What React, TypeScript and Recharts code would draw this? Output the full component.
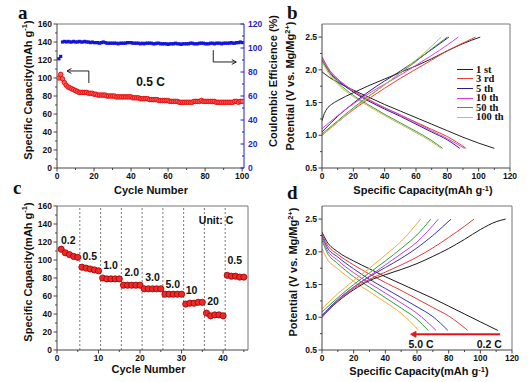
import React from 'react';
import { ScatterChart, Scatter, LineChart, Line, XAxis, YAxis, ReferenceLine, ReferenceDot, Legend } from 'recharts';

const SANS = '"Liberation Sans", Arial, Helvetica, sans-serif';
const SERIF = '"Liberation Serif", "Times New Roman", Times, serif';
const AXIS = '#444';
const BLUE = '#1f1fc8';

// ---------------- panel a : cycling at 0.5 C ----------------
const aCapacity = [
  100, 104, 99, 95, 92, 90, 89, 88, 87, 86,
  85, 84, 84, 84, 84, 84, 83, 83, 83, 82,
  82, 81, 81, 81, 81, 81, 80, 80, 80, 80,
  80, 79, 79, 79, 79, 79, 79, 79, 79, 79,
  78, 78, 78, 78, 77, 77, 77, 77, 77, 76,
  76, 76, 76, 76, 75, 75, 75, 75, 75, 75,
  74, 74, 74, 74, 74, 73, 73, 73, 73, 73,
  73, 73, 73, 74, 74, 74, 74, 75, 74, 74,
  74, 74, 74, 74, 74, 73, 73, 73, 73, 73,
  73, 73, 73, 73, 73, 74, 74, 73, 74, 74,
];
const aEfficiency = [
  91, 93, 105, 105.5, 105, 105.5, 105, 105, 105.5, 105,
  105, 105.5, 105, 105, 105.5, 105, 105, 104.5, 105, 104.5,
  104.5, 104.5, 104, 104.5, 105, 104.5, 104, 104, 104, 104,
  104, 104, 103.5, 104, 104, 104, 104, 104.5, 104.5, 104.5,
  104, 104, 104, 104, 103.5, 104, 103.5, 104, 104, 104,
  104, 103.5, 103.5, 104, 104, 103.5, 103.5, 103.5, 103.5, 103,
  103.5, 103.5, 103.5, 104, 103.5, 103.5, 103, 103.5, 103.5, 103.5,
  103.5, 104, 104, 103.5, 103.5, 103.5, 104, 104, 104, 103.5,
  103.5, 103.5, 104, 104, 103.5, 104, 104, 104, 103.5, 104,
  104, 104, 104, 104.5, 104, 104, 104.5, 104.5, 105, 104.5,
];
const aXTicks = [0, 10, 20, 30, 40, 50, 60, 70, 80, 90, 100];
const aXMajor = [0, 20, 40, 60, 80, 100];
const aYTicks = [0, 10, 20, 30, 40, 50, 60, 70, 80, 90, 100, 110, 120, 130, 140, 150, 160];
const aYMajor = [0, 20, 40, 60, 80, 100, 120, 140, 160];
const aY2Ticks = [0, 10, 20, 30, 40, 50, 60, 70, 80, 90, 100, 110, 120];
const aY2Major = [0, 20, 40, 60, 80, 100, 120];

// ---------------- panel b : charge / discharge of selected cycles ----------------
const b1stDischarge = [[0, 1.97], [5, 1.88], [10, 1.81], [20, 1.69], [30, 1.58], [40, 1.47], [50, 1.37], [60, 1.27], [70, 1.17], [80, 1.07], [90, 0.97], [100, 0.88], [110, 0.8]];
const b1stCharge = [[0, 1.22], [1, 1.3], [3, 1.4], [6, 1.47], [10, 1.53], [20, 1.65], [30, 1.76], [40, 1.86], [50, 1.96], [60, 2.06], [70, 2.17], [80, 2.29], [90, 2.4], [101, 2.5]];
const b3rdDischarge = [[0, 2.2], [5, 1.99], [10, 1.86], [20, 1.68], [30, 1.54], [40, 1.42], [50, 1.31], [60, 1.2], [70, 1.09], [80, 0.98], [92, 0.8]];
const b3rdCharge = [[0, 1.0], [10, 1.2], [20, 1.39], [30, 1.56], [40, 1.72], [50, 1.87], [60, 2.01], [70, 2.15], [80, 2.29], [90, 2.41], [98, 2.5]];
const b5thDischarge = [[0, 2.15], [5, 1.96], [10, 1.84], [20, 1.66], [30, 1.52], [40, 1.4], [50, 1.29], [60, 1.17], [70, 1.05], [80, 0.93], [88, 0.8]];
const b5thCharge = [[0, 1.05], [10, 1.29], [20, 1.49], [30, 1.67], [40, 1.83], [50, 1.98], [60, 2.14], [70, 2.31], [81, 2.5]];
const b10thDischarge = [[0, 2.18], [5, 1.98], [10, 1.86], [20, 1.68], [30, 1.54], [40, 1.42], [50, 1.31], [60, 1.19], [70, 1.07], [80, 0.95], [91, 0.8]];
const b10thCharge = [[0, 1.1], [10, 1.3], [20, 1.48], [30, 1.64], [40, 1.78], [50, 1.92], [60, 2.07], [70, 2.22], [80, 2.38], [87, 2.5]];
const b50thDischarge = [[0, 2.15], [5, 1.95], [10, 1.81], [20, 1.61], [30, 1.46], [40, 1.32], [50, 1.19], [60, 1.06], [70, 0.92], [77, 0.8]];
const b50thCharge = [[0, 1.02], [10, 1.22], [20, 1.42], [30, 1.6], [40, 1.77], [50, 1.95], [60, 2.13], [70, 2.32], [80, 2.5]];
const b100thDischarge = [[0, 2.12], [5, 1.92], [10, 1.78], [20, 1.59], [30, 1.44], [40, 1.3], [50, 1.17], [60, 1.04], [70, 0.9], [76, 0.8]];
const b100thCharge = [[0, 1.0], [10, 1.2], [20, 1.4], [30, 1.59], [40, 1.77], [50, 1.96], [60, 2.15], [70, 2.36], [76, 2.5]];
const bNames = ['1 st', '3 rd', '5 th', '10 th', '50 th', '100 th'];
const bColors = ['#222222', '#e8402e', '#2a1a8c', '#e040e0', '#3a9a4a', '#cdbb55'];
const bDischarges = [b1stDischarge, b3rdDischarge, b5thDischarge, b10thDischarge, b50thDischarge, b100thDischarge];
const bCharges = [b1stCharge, b3rdCharge, b5thCharge, b10thCharge, b50thCharge, b100thCharge];

// ---------------- panel c : rate capability ----------------
const cCapacity = [
  112, 108, 106, 104, 103,
  92, 91, 90, 89, 88,
  80, 79, 79, 79, 79,
  72, 72, 72, 72, 72,
  68, 68, 68, 68, 68,
  62, 62, 62, 62, 62,
  51, 52, 52, 53, 53,
  41, 38, 39, 39, 38,
  83, 82, 82, 81, 81,
];
const cRateLabels = ['0.2', '0.5', '1.0', '2.0', '3.0', '5.0', '10', '20', '0.5'];
const cBoundaries = [5.5, 10.5, 15.5, 20.5, 25.5, 30.5, 35.5, 40.5];
const cXTicks = [0, 5, 10, 15, 20, 25, 30, 35, 40, 45];
const cXMajor = [0, 10, 20, 30, 40];

// ---------------- panel d : charge / discharge at different rates ----------------
const d02Discharge = [[0, 2.3], [3, 2.16], [10, 2.0], [20, 1.86], [30, 1.74], [40, 1.62], [50, 1.51], [60, 1.4], [70, 1.29], [80, 1.17], [90, 1.05], [100, 0.93], [111, 0.8]];
const d02Charge = [[0, 1.0], [5, 1.13], [10, 1.24], [20, 1.42], [30, 1.56], [40, 1.65], [50, 1.73], [60, 1.82], [70, 1.93], [80, 2.05], [90, 2.19], [100, 2.34], [110, 2.46], [116, 2.5]];
const d05Discharge = [[0, 2.28], [3, 2.12], [10, 1.96], [20, 1.8], [30, 1.66], [40, 1.53], [50, 1.41], [60, 1.28], [70, 1.15], [80, 1.02], [92, 0.8]];
const d05Charge = [[0, 1.02], [10, 1.25], [20, 1.44], [30, 1.58], [40, 1.69], [50, 1.8], [60, 1.92], [70, 2.06], [80, 2.22], [90, 2.39], [96, 2.5]];
const d10Discharge = [[0, 2.25], [3, 2.08], [10, 1.92], [20, 1.74], [30, 1.58], [40, 1.44], [50, 1.3], [60, 1.16], [70, 1.01], [79.5, 0.8]];
const d10Charge = [[0, 1.03], [10, 1.27], [20, 1.46], [30, 1.62], [40, 1.76], [50, 1.9], [60, 2.06], [70, 2.25], [81.5, 2.5]];
const d20Discharge = [[0, 2.22], [3, 2.04], [10, 1.87], [20, 1.68], [30, 1.52], [40, 1.37], [50, 1.22], [60, 1.06], [72, 0.8]];
const d20Charge = [[0, 1.0], [10, 1.26], [20, 1.46], [30, 1.63], [40, 1.8], [50, 1.97], [60, 2.15], [73.5, 2.5]];
const d30Discharge = [[0, 2.18], [3, 2.0], [10, 1.82], [20, 1.62], [30, 1.46], [40, 1.3], [50, 1.14], [60, 0.97], [67, 0.8]];
const d30Charge = [[0, 1.08], [10, 1.3], [20, 1.5], [30, 1.68], [40, 1.86], [50, 2.05], [60, 2.26], [68.7, 2.5]];
const d50Discharge = [[0, 2.05], [3, 1.9], [10, 1.74], [20, 1.55], [30, 1.39], [40, 1.23], [50, 1.06], [61, 0.8]];
const d50Charge = [[0, 1.13], [10, 1.36], [20, 1.56], [30, 1.75], [40, 1.95], [50, 2.16], [62.3, 2.5]];
const dColors = ['#1a1a1a', '#e03a3a', '#3636b0', '#c040d8', '#2e9e3e', '#f0aa3a'];
const dDischarges = [d02Discharge, d05Discharge, d10Discharge, d20Discharge, d30Discharge, d50Discharge];
const dCharges = [d02Charge, d05Charge, d10Charge, d20Charge, d30Charge, d50Charge];

const vTicks = [0.5, 0.75, 1.0, 1.25, 1.5, 1.75, 2.0, 2.25, 2.5];
const vMajor = [0.5, 1.0, 1.5, 2.0, 2.5];
const capTicks = [0, 10, 20, 30, 40, 50, 60, 70, 80, 90, 100, 110, 120];
const capMajor = [0, 20, 40, 60, 80, 100, 120];

const pts = (arr: number[][]) => arr.map(([x, y]) => ({ x, y }));
const idxPts = (arr: number[]) => arr.map((y, i) => ({ x: i + 1, y }));

type Side = 'left' | 'right' | 'bottom';
function makeTick(side: Side, major: number[], color: string, labelColor: string, fmt: (v: number) => string, inward = false) {
  return (props: any) => {
    const { x, y, payload } = props;
    const v = Number(payload.value);
    const isMajor = major.some((m) => Math.abs(m - v) < 1e-9);
    const len = isMajor ? 3.5 : 2;
    const label = isMajor ? fmt(v) : '';
    const ts: React.CSSProperties = { fontFamily: SANS, fontSize: 8.5, fontWeight: 700, fill: labelColor };
    if (side === 'left') {
      const d = inward ? len : -len;
      return (
        <g>
          <line x1={x} y1={y} x2={x + d} y2={y} stroke={color} strokeWidth={1} />
          {label ? <text x={x - 5} y={y} dy="0.35em" textAnchor="end" style={ts}>{label}</text> : null}
        </g>
      );
    }
    if (side === 'right') {
      const d = inward ? -len : len;
      return (
        <g>
          <line x1={x} y1={y} x2={x + d} y2={y} stroke={color} strokeWidth={1} />
          {label ? <text x={x + 4} y={y} dy="0.35em" textAnchor="start" style={ts}>{label}</text> : null}
        </g>
      );
    }
    const d = inward ? -len : len;
    return (
      <g>
        <line x1={x} y1={y} x2={x} y2={y + d} stroke={color} strokeWidth={1} />
        {label ? <text x={x} y={y + 5} dy="0.75em" textAnchor="middle" style={ts}>{label}</text> : null}
      </g>
    );
  };
}

const labelShape = (text: string, size: number, color = '#111') => (p: any) => (
  <text x={p.cx} y={p.cy} textAnchor="middle" dominantBaseline="central"
    style={{ fontFamily: SANS, fontSize: size, fontWeight: 700, fill: color }}>{text}</text>
);

const arrowShape = (color: string, width: number, filled: boolean, head: number) => (p: any) => {
  const { x1, y1, x2, y2 } = p;
  const ang = Math.atan2(y2 - y1, x2 - x1);
  const a1 = ang + Math.PI - 0.5;
  const a2 = ang + Math.PI + 0.5;
  const hx1 = x2 + head * Math.cos(a1);
  const hy1 = y2 + head * Math.sin(a1);
  const hx2 = x2 + head * Math.cos(a2);
  const hy2 = y2 + head * Math.sin(a2);
  return (
    <g>
      <line x1={x1} y1={y1} x2={filled ? x2 - head * 0.8 * Math.cos(ang) : x2} y2={filled ? y2 - head * 0.8 * Math.sin(ang) : y2} stroke={color} strokeWidth={width} />
      {filled
        ? <polygon points={`${hx1},${hy1} ${x2},${y2} ${hx2},${hy2}`} fill={color} stroke={color} />
        : <polyline points={`${hx1},${hy1} ${x2},${y2} ${hx2},${hy2}`} fill="none" stroke={color} strokeWidth={width} />}
    </g>
  );
};

const redDot = (p: any) => <circle cx={p.cx} cy={p.cy} r={2.3} fill="#ff5a5a" stroke="#dd0000" strokeWidth={0.8} />;
const blueSquare = (p: any) => <rect x={p.cx - 1.6} y={p.cy - 1.6} width={3.2} height={3.2} fill="#1414e0" />;
const rateDot = (p: any) => <circle cx={p.cx} cy={p.cy} r={3.1} fill="#ec2a2a" stroke="#9a0000" strokeWidth={0.8} />;

const BLegend = (props: any) => {
  const items = (props.payload || [])
    .filter((p: any) => p.type !== 'none' && bNames.indexOf(p.value) >= 0)
    .slice()
    .sort((p: any, q: any) => bNames.indexOf(p.value) - bNames.indexOf(q.value));
  return (
    <div style={{ fontFamily: SERIF, fontWeight: 700, fontSize: 10.5, color: '#111' }}>
      {items.map((p: any, i: number) => (
        <div key={i} style={{ display: 'flex', alignItems: 'center', height: 9.6, lineHeight: '9.6px', whiteSpace: 'nowrap' }}>
          <span style={{ display: 'inline-block', width: 16, borderTop: `1.3px solid ${p.color}`, marginRight: 3 }} />
          <span>{p.value}</span>
        </div>
      ))}
    </div>
  );
};

const cAnnot = [
  { x: 2.7, y: 122 }, { x: 7.9, y: 105 }, { x: 12.9, y: 94.4 }, { x: 18, y: 87 }, { x: 23, y: 81 },
  { x: 27.9, y: 73 }, { x: 32.4, y: 66.7 }, { x: 37.6, y: 54.4 }, { x: 42.8, y: 100 },
];

const fmt1 = (v: number) => v.toFixed(1);

const Sup = ({ t }: { t: string }) => (
  <>
    <tspan dy={-3.5} fontSize={7.5}>{t}</tspan>
    <tspan dy={3.5}>)</tspan>
  </>
);

const titleStyle: React.CSSProperties = { fontFamily: SANS, fontSize: 11, fontWeight: 700, fill: '#111' };
const letterStyle: React.CSSProperties = { fontFamily: SERIF, fontSize: 19, fontWeight: 700, fill: '#111' };

function VTitle({ x, y, children }: { x: number; y: number; children: React.ReactNode }) {
  return (
    <text x={x} y={y} transform={`rotate(-90 ${x} ${y})`} textAnchor="middle" dominantBaseline="central" style={titleStyle}>
      {children}
    </text>
  );
}

export default function App() {
  const aCapPts = idxPts(aCapacity);
  const aEffPts = idxPts(aEfficiency);
  const cPts = idxPts(cCapacity);

  return (
    <div style={{ position: 'absolute', left: 0, top: 0, width: 530, height: 382, background: '#fff', overflow: 'hidden' }}>
      {/* panel a */}
      <div style={{ position: 'absolute', left: 0, top: 0 }}>
        <ScatterChart width={265} height={195} margin={{ top: 24, right: 0, bottom: 0, left: 0 }}>
          <XAxis type="number" dataKey="x" domain={[0, 101]} ticks={aXTicks} interval={0} height={27}
            tickSize={0} tickMargin={0} tickLine={false} axisLine={{ stroke: AXIS }}
            tick={makeTick('bottom', aXMajor, AXIS, '#111', String)} allowDataOverflow />
          <YAxis yAxisId="left" type="number" dataKey="y" domain={[0, 160]} ticks={aYTicks} interval={0} width={57}
            tickSize={0} tickMargin={0} tickLine={false} axisLine={{ stroke: AXIS }}
            tick={makeTick('left', aYMajor, AXIS, '#111', String)} allowDataOverflow />
          <YAxis yAxisId="right" orientation="right" type="number" dataKey="y" domain={[0, 120]} ticks={aY2Ticks} interval={0} width={21}
            tickSize={0} tickMargin={0} tickLine={false} axisLine={{ stroke: BLUE }}
            tick={makeTick('right', aY2Major, BLUE, BLUE, String, true)} allowDataOverflow />
          <ReferenceLine yAxisId="left" y={160} stroke="#777" ifOverflow="visible" />
          <Scatter yAxisId="left" data={aCapPts} shape={redDot} isAnimationActive={false} />
          <Scatter yAxisId="right" data={aEffPts} shape={blueSquare} isAnimationActive={false} />
          <ReferenceLine yAxisId="left" segment={[{ x: 17.2, y: 107.8 }, { x: 5.4, y: 107.8 }]} shape={arrowShape('#222', 1, false, 5)} ifOverflow="visible" />
          <ReferenceLine yAxisId="left" segment={[{ x: 17.2, y: 107.8 }, { x: 17.2, y: 94.4 }]} stroke="#222" strokeWidth={1} ifOverflow="visible" />
          <ReferenceLine yAxisId="left" segment={[{ x: 84.4, y: 131 }, { x: 84.4, y: 117.8 }]} stroke="#222" strokeWidth={1} ifOverflow="visible" />
          <ReferenceLine yAxisId="left" segment={[{ x: 84.4, y: 117.8 }, { x: 96.8, y: 117.8 }]} shape={arrowShape('#222', 1, false, 5)} ifOverflow="visible" />
          <ReferenceDot yAxisId="left" x={50.5} y={95.5} shape={labelShape('0.5 C', 12)} />
        </ScatterChart>
      </div>

      {/* panel b */}
      <div style={{ position: 'absolute', left: 265, top: 0 }}>
        <LineChart width={265} height={195} margin={{ top: 24, right: 20, bottom: 0, left: 0 }}>
          <XAxis type="number" dataKey="x" domain={[0, 120]} ticks={capTicks} interval={0} height={27}
            tickSize={0} tickMargin={0} tickLine={false} axisLine={{ stroke: AXIS }}
            tick={makeTick('bottom', capMajor, AXIS, '#111', String)} allowDataOverflow />
          <YAxis type="number" dataKey="y" domain={[0.5, 2.7]} ticks={vTicks} interval={0} width={57}
            tickSize={0} tickMargin={0} tickLine={false} axisLine={{ stroke: AXIS }}
            tick={makeTick('left', vMajor, AXIS, '#111', fmt1)} allowDataOverflow />
          <ReferenceLine y={2.7} stroke="#777" ifOverflow="visible" />
          <ReferenceLine x={120} stroke="#777" ifOverflow="visible" />
          {bDischarges.map((c, i) => (
            <Line key={'bd' + i} data={pts(c)} dataKey="y" name={bNames[i]} type="monotone" stroke={bColors[i]}
              strokeWidth={1} dot={false} isAnimationActive={false} />
          ))}
          {bCharges.map((c, i) => (
            <Line key={'bc' + i} data={pts(c)} dataKey="y" name={bNames[i] + ' charge'} legendType="none" type="monotone"
              stroke={bColors[i]} strokeWidth={1} dot={false} isAnimationActive={false} />
          ))}
          <Legend layout="horizontal" verticalAlign="middle" align="center" content={BLegend}
            wrapperStyle={{ left: 192, top: 64.5, width: 70, height: 60 }} />
        </LineChart>
      </div>

      {/* panel c */}
      <div style={{ position: 'absolute', left: 0, top: 190 }}>
        <ScatterChart width={265} height={192} margin={{ top: 16, right: 17, bottom: 5, left: 0 }}>
          <XAxis type="number" dataKey="x" domain={[0, 46]} ticks={cXTicks} interval={0} height={27}
            tickSize={0} tickMargin={0} tickLine={false} axisLine={{ stroke: AXIS }}
            tick={makeTick('bottom', cXMajor, AXIS, '#111', String)} allowDataOverflow />
          <YAxis type="number" dataKey="y" domain={[0, 160]} ticks={aYTicks} interval={0} width={57}
            tickSize={0} tickMargin={0} tickLine={false} axisLine={{ stroke: AXIS }}
            tick={makeTick('left', aYMajor, AXIS, '#111', String)} allowDataOverflow />
          <ReferenceLine y={160} stroke="#777" ifOverflow="visible" />
          <ReferenceLine x={46} stroke="#777" ifOverflow="visible" />
          {cBoundaries.map((b) => (
            <ReferenceLine key={'cb' + b} x={b} stroke="#555" strokeWidth={0.8} strokeDasharray="2 2" ifOverflow="visible" />
          ))}
          <Scatter data={cPts} shape={rateDot} isAnimationActive={false} />
          {cRateLabels.map((t, i) => (
            <ReferenceDot key={'cl' + i} x={cAnnot[i].x} y={cAnnot[i].y} shape={labelShape(t, 10.5)} />
          ))}
          <ReferenceDot x={38.3} y={145} shape={labelShape('Unit: C', 10.5)} />
        </ScatterChart>
      </div>

      {/* panel d */}
      <div style={{ position: 'absolute', left: 265, top: 190 }}>
        <LineChart width={265} height={192} margin={{ top: 16, right: 18, bottom: 5, left: 0 }}>
          <XAxis type="number" dataKey="x" domain={[0, 120]} ticks={capTicks} interval={0} height={27}
            tickSize={0} tickMargin={0} tickLine={false} axisLine={{ stroke: AXIS }}
            tick={makeTick('bottom', capMajor, AXIS, '#111', String)} allowDataOverflow />
          <YAxis type="number" dataKey="y" domain={[0.5, 2.7]} ticks={vTicks} interval={0} width={57}
            tickSize={0} tickMargin={0} tickLine={false} axisLine={{ stroke: AXIS }}
            tick={makeTick('left', vMajor, AXIS, '#111', fmt1)} allowDataOverflow />
          <ReferenceLine y={2.7} stroke="#777" ifOverflow="visible" />
          <ReferenceLine x={120} stroke="#777" ifOverflow="visible" />
          {dDischarges.map((c, i) => (
            <Line key={'dd' + i} data={pts(c)} dataKey="y" type="monotone" stroke={dColors[i]}
              strokeWidth={1} dot={false} isAnimationActive={false} />
          ))}
          {dCharges.map((c, i) => (
            <Line key={'dc' + i} data={pts(c)} dataKey="y" type="monotone" stroke={dColors[i]}
              strokeWidth={1} dot={false} isAnimationActive={false} />
          ))}
          <ReferenceLine segment={[{ x: 112.5, y: 0.74 }, { x: 56, y: 0.74 }]} shape={arrowShape('#e8141c', 2, true, 6)} ifOverflow="visible" />
          <ReferenceDot x={62.5} y={0.59} shape={labelShape('5.0 C', 10.5)} />
          <ReferenceDot x={105.6} y={0.59} shape={labelShape('0.2 C', 10.5)} />
        </LineChart>
      </div>

      {/* titles and panel letters */}
      <svg width={530} height={382} style={{ position: 'absolute', left: 0, top: 0, pointerEvents: 'none' }}>
        <text x={18} y={19} style={letterStyle}>a</text>
        <text x={287} y={19} style={letterStyle}>b</text>
        <text x={13} y={194} style={letterStyle}>c</text>
        <text x={287} y={199} style={letterStyle}>d</text>

        <VTitle x={27.5} y={90}>Specific Capacity(mAh g<Sup t="-1" /></VTitle>
        <VTitle x={27.5} y={272}>Specific Capacity(mAh g<Sup t="-1" /></VTitle>
        <VTitle x={273} y={81}>Coulombic Efficience (%)</VTitle>
        <VTitle x={290} y={86}>Potential (V vs. Mg/Mg<tspan dy={-3.5} fontSize={7.5}>2+</tspan><tspan dy={3.5}>)</tspan></VTitle>
        <VTitle x={293} y={272}>Potential (V vs. Mg/Mg<tspan dy={-3.5} fontSize={7.5}>2+</tspan><tspan dy={3.5}>)</tspan></VTitle>

        <text x={151} y={194} textAnchor="middle" style={titleStyle}>Cycle Number</text>
        <text x={148.5} y={373} textAnchor="middle" style={titleStyle}>Cycle Number</text>
        <text x={423} y={194} textAnchor="middle" style={titleStyle}>Specific Capacity(mAh g<Sup t="-1" /></text>
        <text x={419} y={375} textAnchor="middle" style={titleStyle}>Specific Capacity(mAh g<Sup t="-1" /></text>
      </svg>
    </div>
  );
}
